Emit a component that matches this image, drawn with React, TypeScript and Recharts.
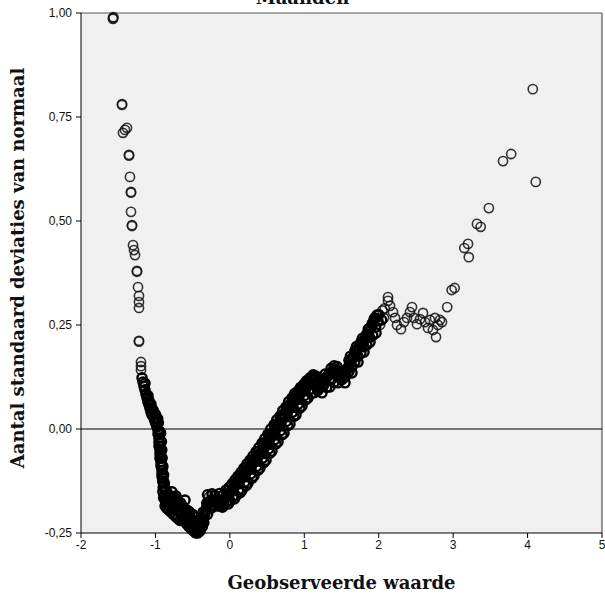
import {
  ScatterChart, Scatter, XAxis, YAxis, CartesianGrid, ReferenceLine, Label,
} from 'recharts'

// ── Data (observed value, detrended deviation) ───────────────────────────────

const leftTail: [number, number][] = [
  [-1.57, 0.988], [-1.57, 0.986], [-1.565, 0.99],
  [-1.449, 0.781], [-1.449, 0.779],
  [-1.436, 0.712], [-1.409, 0.719], [-1.382, 0.724],
  [-1.355, 0.659], [-1.355, 0.657],
  [-1.342, 0.606],
  [-1.328, 0.570], [-1.328, 0.568],
  [-1.328, 0.522],
  [-1.315, 0.490], [-1.315, 0.488],
  [-1.301, 0.442], [-1.288, 0.430], [-1.274, 0.418],
  [-1.248, 0.380], [-1.248, 0.378],
  [-1.234, 0.341], [-1.221, 0.320], [-1.221, 0.305], [-1.221, 0.291],
  [-1.221, 0.212], [-1.221, 0.210],
  [-1.194, 0.161], [-1.194, 0.151], [-1.194, 0.142],
]

const leftDrop: [number, number][] = [
  [-1.180, 0.123], [-1.167, 0.113], [-1.154, 0.103], [-1.140, 0.094],
  [-1.127, 0.084], [-1.113, 0.075], [-1.100, 0.065], [-1.086, 0.058],
  [-1.073, 0.050], [-1.060, 0.041], [-1.046, 0.034], [-1.019, 0.026],
  [-1.006, 0.019], [-0.992, 0.012], [-0.979, 0.005],
  [-1.09, 0.07], [-1.06, 0.06], [-1.03, 0.045], [-1.0, 0.035],
  [-0.97, 0.025], [-0.96, 0.015],
  [-1.14, 0.11], [-1.10, 0.08], [-1.05, 0.05], [-0.99, 0.025],
]

const valleyLeft: [number, number][] = [
  [-0.965, -0.002], [-0.965, -0.012], [-0.952, -0.022], [-0.952, -0.031],
  [-0.952, -0.041], [-0.939, -0.050], [-0.939, -0.060], [-0.939, -0.070],
  [-0.925, -0.079], [-0.925, -0.089], [-0.912, -0.099], [-0.912, -0.108],
  [-0.898, -0.118], [-0.898, -0.127], [-0.885, -0.137], [-0.858, -0.147],
  [-0.831, -0.156], [-0.804, -0.163], [-0.764, -0.171], [-0.724, -0.175],
  [-0.683, -0.180], [-0.643, -0.185], [-0.603, -0.192], [-0.562, -0.202],
  [-0.522, -0.214], [-0.482, -0.226], [-0.455, -0.236], [-0.428, -0.243],
  [-0.777, -0.151], [-0.724, -0.161], [-0.871, -0.171], [-0.831, -0.183],
  [-0.777, -0.190], [-0.710, -0.197], [-0.643, -0.204], [-0.589, -0.216],
  [-0.536, -0.226], [-0.495, -0.236], [-0.603, -0.171],
  [-0.93, -0.01], [-0.92, -0.03], [-0.915, -0.05], [-0.91, -0.07],
  [-0.90, -0.09], [-0.89, -0.11], [-0.88, -0.13], [-0.87, -0.145],
  [-0.945, -0.005], [-0.94, -0.035], [-0.93, -0.055], [-0.925, -0.065],
  [-0.92, -0.085], [-0.91, -0.115], [-0.90, -0.125], [-0.895, -0.14],
]

const valleyFill: [number, number][] = [
  [-0.88, -0.160], [-0.86, -0.175], [-0.84, -0.165], [-0.80, -0.178],
  [-0.76, -0.185], [-0.72, -0.188], [-0.68, -0.195], [-0.64, -0.198],
  [-0.60, -0.205], [-0.56, -0.212], [-0.52, -0.222], [-0.48, -0.232],
  [-0.45, -0.245], [-0.42, -0.235], [-0.39, -0.225], [-0.44, -0.220],
  [-0.47, -0.212], [-0.50, -0.205], [-0.55, -0.198], [-0.70, -0.172],
  [-0.66, -0.178], [-0.74, -0.165],
  [-0.90, -0.150], [-0.89, -0.165], [-0.87, -0.185], [-0.85, -0.190],
  [-0.82, -0.195], [-0.79, -0.200], [-0.76, -0.205], [-0.73, -0.210],
  [-0.70, -0.215], [-0.67, -0.220], [-0.64, -0.215], [-0.61, -0.222],
  [-0.58, -0.228], [-0.55, -0.235], [-0.52, -0.240], [-0.49, -0.245],
  [-0.46, -0.250], [-0.43, -0.250], [-0.40, -0.245], [-0.37, -0.235],
  [-0.80, -0.165], [-0.78, -0.175], [-0.68, -0.185], [-0.62, -0.190],
  [-0.58, -0.195],
]

const risingArm: [number, number][] = [
  [-0.401, -0.233], [-0.374, -0.221], [-0.347, -0.209], [-0.321, -0.195],
  [-0.294, -0.180], [-0.253, -0.171], [-0.213, -0.175],
  [-0.173, -0.171], [-0.132, -0.178], [-0.092, -0.171], [-0.052, -0.163],
  [-0.012, -0.156], [0.029, -0.147], [0.069, -0.137], [0.109, -0.127],
  [0.150, -0.118], [0.190, -0.111], [0.230, -0.101], [0.271, -0.091],
  [0.311, -0.082], [0.351, -0.072], [0.392, -0.063], [0.432, -0.053],
  [0.472, -0.043], [0.512, -0.031], [0.553, -0.019], [0.593, -0.007],
  [0.633, 0.005], [0.674, 0.017], [0.714, 0.029], [0.754, 0.041],
  [0.795, 0.053], [0.835, 0.063], [0.875, 0.072], [0.915, 0.082],
  [0.956, 0.091], [0.996, 0.099], [1.036, 0.106], [1.077, 0.113],
  [1.117, 0.123], [1.157, 0.127], [1.184, 0.094], [1.211, 0.103],
  [1.251, 0.115], [1.292, 0.123], [1.332, 0.130], [1.372, 0.137],
  [1.413, 0.144], [1.453, 0.137], [1.493, 0.125], [1.533, 0.123],
  [1.574, 0.142], [1.614, 0.156], [1.654, 0.171], [1.695, 0.185],
  [1.735, 0.197], [1.775, 0.207], [1.816, 0.216], [1.856, 0.226],
  [1.896, 0.243], [1.937, 0.260], [1.977, 0.274],
]

const risingStagger: [number, number][] = [
  [-0.39, -0.228], [-0.36, -0.215], [-0.335, -0.202], [-0.31, -0.188],
  [-0.27, -0.175], [-0.23, -0.172], [-0.19, -0.175], [-0.15, -0.176],
  [-0.11, -0.175], [-0.07, -0.168], [-0.03, -0.160], [0.01, -0.152],
  [0.05, -0.142], [0.09, -0.132], [0.13, -0.123], [0.17, -0.115],
  [0.21, -0.106], [0.25, -0.096], [0.29, -0.087], [0.33, -0.077],
  [0.37, -0.068], [0.41, -0.058], [0.45, -0.048], [0.49, -0.037],
  [0.53, -0.025], [0.57, -0.013], [0.61, -0.001], [0.65, 0.011],
  [0.69, 0.023], [0.73, 0.035], [0.77, 0.047], [0.81, 0.058],
  [0.85, 0.068], [0.89, 0.077], [0.93, 0.087], [0.97, 0.095],
  [1.01, 0.103], [1.05, 0.110], [1.09, 0.118], [1.13, 0.125],
  [1.17, 0.110], [1.20, 0.098], [1.23, 0.109], [1.27, 0.119],
  [1.31, 0.127], [1.35, 0.134], [1.39, 0.141], [1.43, 0.141],
  [1.47, 0.131], [1.51, 0.124], [1.55, 0.132], [1.59, 0.149],
  [1.63, 0.164], [1.67, 0.178], [1.71, 0.191], [1.75, 0.202],
  [1.79, 0.212], [1.83, 0.221], [1.87, 0.235], [1.91, 0.252],
  [1.95, 0.267], [1.99, 0.260],
]

const risingLower: [number, number][] = [
  [-0.159, -0.185], [-0.079, -0.180], [0.002, -0.173], [0.083, -0.161],
  [0.163, -0.147], [0.244, -0.130], [0.324, -0.113], [0.405, -0.094],
  [0.486, -0.075], [0.566, -0.053], [0.647, -0.031], [0.727, -0.010],
  [0.808, 0.012], [0.889, 0.034], [0.969, 0.055], [1.050, 0.075],
  [1.130, 0.087], [1.238, 0.087], [1.345, 0.101], [1.453, 0.111],
  [1.547, 0.111], [1.641, 0.135], [1.722, 0.161], [1.802, 0.185],
  [1.883, 0.209], [1.964, 0.231],
  [-0.10, -0.188], [-0.02, -0.180], [0.06, -0.168], [0.14, -0.153],
  [0.22, -0.136], [0.30, -0.118], [0.38, -0.099], [0.46, -0.080],
  [0.54, -0.058], [0.62, -0.036], [0.70, -0.014], [0.78, 0.008],
  [0.86, 0.030], [0.94, 0.050], [1.02, 0.070], [1.10, 0.086],
  [1.18, 0.092], [1.30, 0.100], [1.40, 0.112], [1.50, 0.118],
  [1.60, 0.138], [1.68, 0.162], [1.76, 0.182], [1.84, 0.202],
  [1.92, 0.225],
]

const risingMidLow: [number, number][] = [
  [-0.35, -0.225], [-0.30, -0.205], [-0.25, -0.190], [-0.20, -0.185],
  [-0.12, -0.185], [-0.04, -0.175], [0.04, -0.162], [0.12, -0.146],
  [0.20, -0.128], [0.28, -0.108], [0.36, -0.090], [0.44, -0.070],
  [0.52, -0.048], [0.60, -0.026], [0.68, -0.004], [0.76, 0.018],
  [0.84, 0.040], [0.92, 0.060], [1.00, 0.080], [1.08, 0.096],
  [1.16, 0.105], [1.26, 0.105], [1.36, 0.118], [1.46, 0.125],
  [1.56, 0.128], [1.64, 0.150], [1.72, 0.175], [1.80, 0.198],
  [1.88, 0.220], [1.96, 0.245], [2.04, 0.262],
]

const risingMidHigh: [number, number][] = [
  [-0.36, -0.200], [-0.31, -0.178], [-0.20, -0.160], [-0.10, -0.160],
  [-0.02, -0.148], [0.06, -0.130], [0.14, -0.112], [0.22, -0.092],
  [0.30, -0.074], [0.38, -0.054], [0.46, -0.034], [0.54, -0.012],
  [0.62, 0.012], [0.70, 0.034], [0.78, 0.056], [0.86, 0.078],
  [0.94, 0.094], [1.02, 0.110], [1.10, 0.124], [1.20, 0.118],
  [1.28, 0.132], [1.36, 0.146], [1.44, 0.150], [1.52, 0.140],
  [1.60, 0.165], [1.68, 0.188], [1.76, 0.208], [1.84, 0.228],
  [1.92, 0.255], [2.00, 0.275],
]

const risingUpper: [number, number][] = [
  [-0.240, -0.156], [-0.052, -0.147], [0.029, -0.132], [0.109, -0.113],
  [0.190, -0.094], [0.271, -0.075], [0.351, -0.055], [0.432, -0.034],
  [0.512, -0.012], [0.593, 0.010], [0.674, 0.031], [0.754, 0.053],
  [0.835, 0.075], [0.915, 0.091], [0.996, 0.108], [1.077, 0.123],
  [-0.30, -0.158], [-0.14, -0.155], [-0.01, -0.140], [0.07, -0.122],
  [0.15, -0.104], [0.23, -0.084], [0.31, -0.065], [0.39, -0.045],
  [0.47, -0.023], [0.55, 0.000], [0.63, 0.022], [0.71, 0.044],
  [0.79, 0.066], [0.87, 0.085], [0.95, 0.100], [1.03, 0.116],
  [1.12, 0.130], [1.40, 0.152], [1.62, 0.175], [1.70, 0.198],
  [1.78, 0.218], [1.86, 0.240], [1.94, 0.265],
]

// lighter, loosely spread observations
const sparseRising: [number, number][] = [
  [-0.280, -0.163], [2.08, 0.290], [2.05, 0.285],
]

const plateau: [number, number][] = [
  [2.017, 0.250], [2.071, 0.267], [2.125, 0.317], [2.125, 0.308],
  [2.152, 0.296], [2.192, 0.281], [2.219, 0.267], [2.246, 0.250],
  [2.299, 0.240], [2.340, 0.257], [2.380, 0.267], [2.420, 0.281],
  [2.447, 0.293], [2.474, 0.267], [2.514, 0.252], [2.555, 0.264],
  [2.595, 0.279], [2.622, 0.257], [2.662, 0.243], [2.689, 0.262],
  [2.729, 0.238], [2.756, 0.267], [2.796, 0.250], [2.823, 0.262],
  [2.770, 0.221], [2.850, 0.257],
]

const rightTail: [number, number][] = [
  [2.92, 0.293], [2.98, 0.334], [3.02, 0.339], [3.15, 0.435],
  [3.20, 0.445], [3.21, 0.413], [3.32, 0.493], [3.37, 0.486],
  [3.48, 0.531], [3.67, 0.644], [3.78, 0.661], [4.07, 0.817],
  [4.11, 0.594],
]

const xTicks = [-2, -1, 0, 1, 2, 3, 4, 5]
const yTicks = [-0.25, 0, 0.25, 0.5, 0.75, 1]

const toPts = (arr: [number, number][]) => arr.map(([x, y]) => ({ x, y }))

const densePoints = toPts([
  ...leftDrop, ...valleyLeft, ...valleyFill, ...risingArm, ...risingStagger,
  ...risingLower, ...risingMidLow, ...risingMidHigh, ...risingUpper,
])
const sparsePoints = toPts([...leftTail, ...sparseRising, ...plateau, ...rightTail])

// ── Helpers ──────────────────────────────────────────────────────────────────

const fmtY = (v: number) => v.toFixed(2).replace('.', ',')

function Ring({ cx, cy }: any) {
  if (cx == null || cy == null) return null
  return (
    <circle cx={cx} cy={cy} r={4.6} fill="none" stroke="#111" strokeOpacity={0.85} strokeWidth={1.6} />
  )
}

function HeavyRing({ cx, cy }: any) {
  if (cx == null || cy == null) return null
  return (
    <circle cx={cx} cy={cy} r={4.6} fill="none" stroke="#000" strokeWidth={2.4} />
  )
}

function YTitle({ viewBox }: any) {
  const x = 17
  const y = viewBox.y + viewBox.height / 2 - 5
  return (
    <text
      x={x} y={y} transform={`rotate(-90, ${x}, ${y})`}
      textAnchor="middle" dominantBaseline="central"
      fontFamily="DejaVu Serif" fontWeight="bold" fontSize={18} fill="#111"
    >
      Aantal standaard deviaties van normaal
    </text>
  )
}

function XTitle({ viewBox }: any) {
  const x = viewBox.x + viewBox.width / 2
  return (
    <text
      x={x} y={582} textAnchor="middle" dominantBaseline="central"
      fontFamily="DejaVu Serif" fontWeight="bold" fontSize={18} fill="#111"
    >
      Geobserveerde waarde
    </text>
  )
}

const tickStyle = { fill: '#111', fontSize: 12, fontFamily: 'Liberation Sans' }

export default function App() {
  return (
    <div style={{ position: 'absolute', left: 0, top: 0, width: 605, height: 595, background: '#fff', overflow: 'hidden' }}>
      <div
        style={{
          position: 'absolute', top: -11, left: 0, width: 605, textAlign: 'center',
          fontFamily: 'DejaVu Serif', fontWeight: 'bold', fontSize: 18, lineHeight: '18px', color: '#111',
        }}
      >
        Maanden
      </div>
      <ScatterChart width={605} height={595} margin={{ top: 13, right: 3, left: 0, bottom: 0 }}>
        <CartesianGrid fill="#F0F0F0" horizontal={false} vertical={false} />
        <XAxis
          type="number" dataKey="x" domain={[-2, 5]} ticks={xTicks} height={62}
          tick={tickStyle} tickSize={5} tickMargin={2}
          axisLine={{ stroke: '#000' }} tickLine={{ stroke: '#000' }}
        >
          <Label content={<XTitle />} />
        </XAxis>
        <YAxis
          type="number" dataKey="y" domain={[-0.25, 1]} ticks={yTicks} width={81}
          tick={tickStyle} tickSize={5} tickMargin={4} tickFormatter={fmtY}
          axisLine={{ stroke: '#000' }} tickLine={{ stroke: '#000' }}
        >
          <Label content={<YTitle />} />
        </YAxis>
        <ReferenceLine y={1} stroke="#555" strokeWidth={1.2} />
        <ReferenceLine x={5} stroke="#555" strokeWidth={1.2} />
        <ReferenceLine y={0} stroke="#000" strokeWidth={1.2} />
        <Scatter data={sparsePoints} shape={<Ring />} isAnimationActive={false} />
        <Scatter data={densePoints} shape={<HeavyRing />} isAnimationActive={false} />
      </ScatterChart>
    </div>
  )
}
